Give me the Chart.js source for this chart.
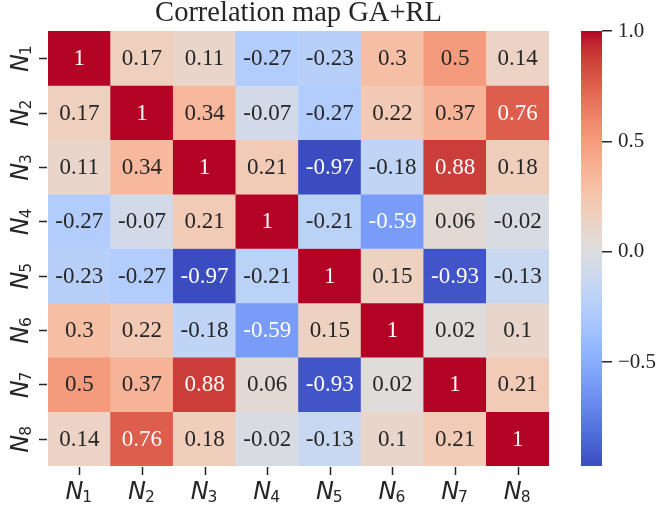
<!DOCTYPE html>
<html>
<head>
<meta charset="utf-8">
<script src="https://cdn.jsdelivr.net/npm/chart.js@4/dist/chart.umd.min.js"></script>
<style>
  html, body { margin: 0; padding: 0; background: #fff; }
  #wrap { position: relative; width: 658px; height: 506px; }
  #heat { position: absolute; left: 0; top: 0; }
  #cbar { position: absolute; left: 560px; top: 0; }
</style>
</head>
<body>
<div id="wrap">
  <canvas id="heat" width="658" height="506"></canvas>
  <canvas id="cbar" width="98" height="506"></canvas>
</div>
<script>
const TITLE = 'Correlation map GA+RL';
const nodeSubs = ['1', '2', '3', '4', '5', '6', '7', '8'];

// correlation matrix, one array per row (N1..N8)
const rowN1 = [1, 0.17, 0.11, -0.27, -0.23, 0.3, 0.5, 0.14];
const rowN2 = [0.17, 1, 0.34, -0.07, -0.27, 0.22, 0.37, 0.76];
const rowN3 = [0.11, 0.34, 1, 0.21, -0.97, -0.18, 0.88, 0.18];
const rowN4 = [-0.27, -0.07, 0.21, 1, -0.21, -0.59, 0.06, -0.02];
const rowN5 = [-0.23, -0.27, -0.97, -0.21, 1, 0.15, -0.93, -0.13];
const rowN6 = [0.3, 0.22, -0.18, -0.59, 0.15, 1, 0.02, 0.1];
const rowN7 = [0.5, 0.37, 0.88, 0.06, -0.93, 0.02, 1, 0.21];
const rowN8 = [0.14, 0.76, 0.18, -0.02, -0.13, 0.1, 0.21, 1];
const rows = [rowN1, rowN2, rowN3, rowN4, rowN5, rowN6, rowN7, rowN8];

const cbTicks = [-0.5, 0, 0.5, 1.0];
const V_MIN = -0.97, V_MAX = 1;

const INK = '#262626';
const SERIF = '"Liberation Serif", "Times New Roman", serif';
const SANS = '"DejaVu Sans", sans-serif';

// matplotlib coolwarm, 33 stops
const COOLWARM = [
  [59,76,192],[68,90,204],[77,104,215],[87,117,225],[98,130,234],[108,142,241],
  [119,154,247],[130,165,251],[141,176,254],[152,185,255],[163,194,255],[174,201,253],
  [184,208,249],[194,213,244],[204,217,238],[213,219,230],[221,221,221],[229,216,209],
  [236,211,197],[241,204,184],[245,196,172],[247,187,160],[247,177,148],[247,166,137],
  [244,154,123],[241,141,111],[236,127,99],[229,112,89],[222,96,77],[213,80,66],
  [203,62,56],[192,40,47],[180,4,38]
];

function coolwarm(t) {
  t = Math.max(0, Math.min(1, t));
  const p = t * (COOLWARM.length - 1);
  const i = Math.min(Math.floor(p), COOLWARM.length - 2);
  const f = p - i;
  const a = COOLWARM[i], b = COOLWARM[i + 1];
  return a.map((c, k) => Math.round(c + (b[k] - c) * f));
}

function rgbStr(c) { return `rgb(${c[0]},${c[1]},${c[2]})`; }

function colorFor(v) { return coolwarm((v - V_MIN) / (V_MAX - V_MIN)); }

function luminance(c) {
  const lin = c.map(x => {
    x /= 255;
    return x <= 0.03928 ? x / 12.92 : Math.pow((x + 0.055) / 1.055, 2.4);
  });
  return 0.2126 * lin[0] + 0.7152 * lin[1] + 0.0722 * lin[2];
}

function fmt(v) { return String(Number(v.toPrecision(2))); }

// italic N with upright subscript digit, centred on (0,0) baseline
function drawNodeLabel(ctx, sub) {
  const big = 'italic 24px ' + SANS;
  const small = '15.5px ' + SANS;
  ctx.font = big;
  const wN = ctx.measureText('N').width;
  ctx.font = small;
  const wS = ctx.measureText(sub).width;
  const x0 = -(wN + wS) / 2;
  ctx.textAlign = 'left';
  ctx.textBaseline = 'alphabetic';
  ctx.font = big;
  ctx.fillText('N', x0, 0);
  ctx.font = small;
  ctx.fillText(sub, x0 + wN - 1, 3);
}

const heatLabels = nodeSubs.map(s => 'N' + s);

const heatDatasets = rows.map((vals, r) => ({
  data: vals.map(() => [r, r + 1]),
  backgroundColor: vals.map(v => rgbStr(colorFor(v))),
  borderWidth: 0,
  barPercentage: 1,
  categoryPercentage: 1,
  grouped: false
}));

const heatDecor = {
  id: 'heatDecor',
  afterDraw(chart) {
    const { ctx, chartArea, scales } = chart;
    const xs = scales.x, ys = scales.y;
    ctx.save();

    // title
    ctx.fillStyle = INK;
    ctx.font = '28.5px ' + SERIF;
    ctx.textAlign = 'center';
    ctx.textBaseline = 'alphabetic';
    ctx.fillText(TITLE, (chartArea.left + chartArea.right) / 2, 21);

    // annotations
    ctx.font = '23px ' + SERIF;
    ctx.textBaseline = 'middle';
    rows.forEach((vals, r) => {
      const cy = ys.getPixelForValue(r + 0.5);
      vals.forEach((v, c) => {
        const cx = xs.getPixelForValue(c);
        ctx.fillStyle = luminance(colorFor(v)) > 0.408 ? INK : '#ffffff';
        ctx.textAlign = 'center';
        ctx.fillText(fmt(v), cx, cy + 1);
      });
    });

    // tick marks
    ctx.strokeStyle = INK;
    ctx.lineWidth = 1.5;
    ctx.beginPath();
    nodeSubs.forEach((s, i) => {
      const x = Math.round(xs.getPixelForValue(i)) + 0.5;
      ctx.moveTo(x, chartArea.bottom + 1);
      ctx.lineTo(x, chartArea.bottom + 9);
      const y = Math.round(ys.getPixelForValue(i + 0.5)) + 0.5;
      ctx.moveTo(chartArea.left - 1, y);
      ctx.lineTo(chartArea.left - 9, y);
    });
    ctx.stroke();

    // tick labels
    ctx.fillStyle = INK;
    nodeSubs.forEach((s, i) => {
      ctx.save();
      ctx.translate(xs.getPixelForValue(i), chartArea.bottom + 33);
      drawNodeLabel(ctx, s);
      ctx.restore();

      ctx.save();
      ctx.translate(chartArea.left - 20.5, ys.getPixelForValue(i + 0.5));
      ctx.rotate(-Math.PI / 2);
      drawNodeLabel(ctx, s);
      ctx.restore();
    });

    ctx.restore();
  }
};

new Chart(document.getElementById('heat'), {
  type: 'bar',
  data: { labels: heatLabels, datasets: heatDatasets },
  options: {
    responsive: false,
    devicePixelRatio: 1,
    animation: false,
    events: [],
    layout: { padding: { left: 48, top: 31, right: 109, bottom: 40 } },
    plugins: { legend: { display: false }, tooltip: { enabled: false } },
    scales: {
      x: { type: 'category', display: false, offset: true },
      y: { type: 'linear', display: false, reverse: true, min: 0, max: rows.length }
    }
  },
  plugins: [heatDecor]
});

// colorbar
function cbGradient(context) {
  const chart = context.chart;
  const { ctx, chartArea, scales } = chart;
  if (!chartArea) return 'rgb(221,221,221)';
  const y0 = scales.y.getPixelForValue(V_MIN);
  const y1 = scales.y.getPixelForValue(V_MAX);
  const g = ctx.createLinearGradient(0, y0, 0, y1);
  COOLWARM.forEach((c, i) => g.addColorStop(i / (COOLWARM.length - 1), rgbStr(c)));
  return g;
}

new Chart(document.getElementById('cbar'), {
  type: 'bar',
  data: {
    labels: ['cb'],
    datasets: [{
      data: [[V_MIN, V_MAX]],
      backgroundColor: cbGradient,
      borderWidth: 0,
      barPercentage: 1,
      categoryPercentage: 1
    }]
  },
  options: {
    responsive: false,
    devicePixelRatio: 1,
    animation: false,
    events: [],
    layout: { padding: { left: 21, top: 31, right: 0, bottom: 40 } },
    plugins: { legend: { display: false }, tooltip: { enabled: false } },
    scales: {
      x: { display: false, offset: true },
      y: {
        type: 'linear',
        position: 'right',
        min: V_MIN,
        max: V_MAX,
        afterBuildTicks: axis => { axis.ticks = cbTicks.map(v => ({ value: v })); },
        afterFit: axis => { axis.width = 56; },
        border: { display: false },
        grid: { drawOnChartArea: false, drawTicks: true, tickLength: 10, color: INK, lineWidth: 1.5 },
        ticks: {
          color: INK,
          padding: 6,
          font: { family: SERIF, size: 21 },
          callback: v => v.toFixed(1).replace('-', '\u2212')
        }
      }
    }
  }
});
</script>
</body>
</html>
